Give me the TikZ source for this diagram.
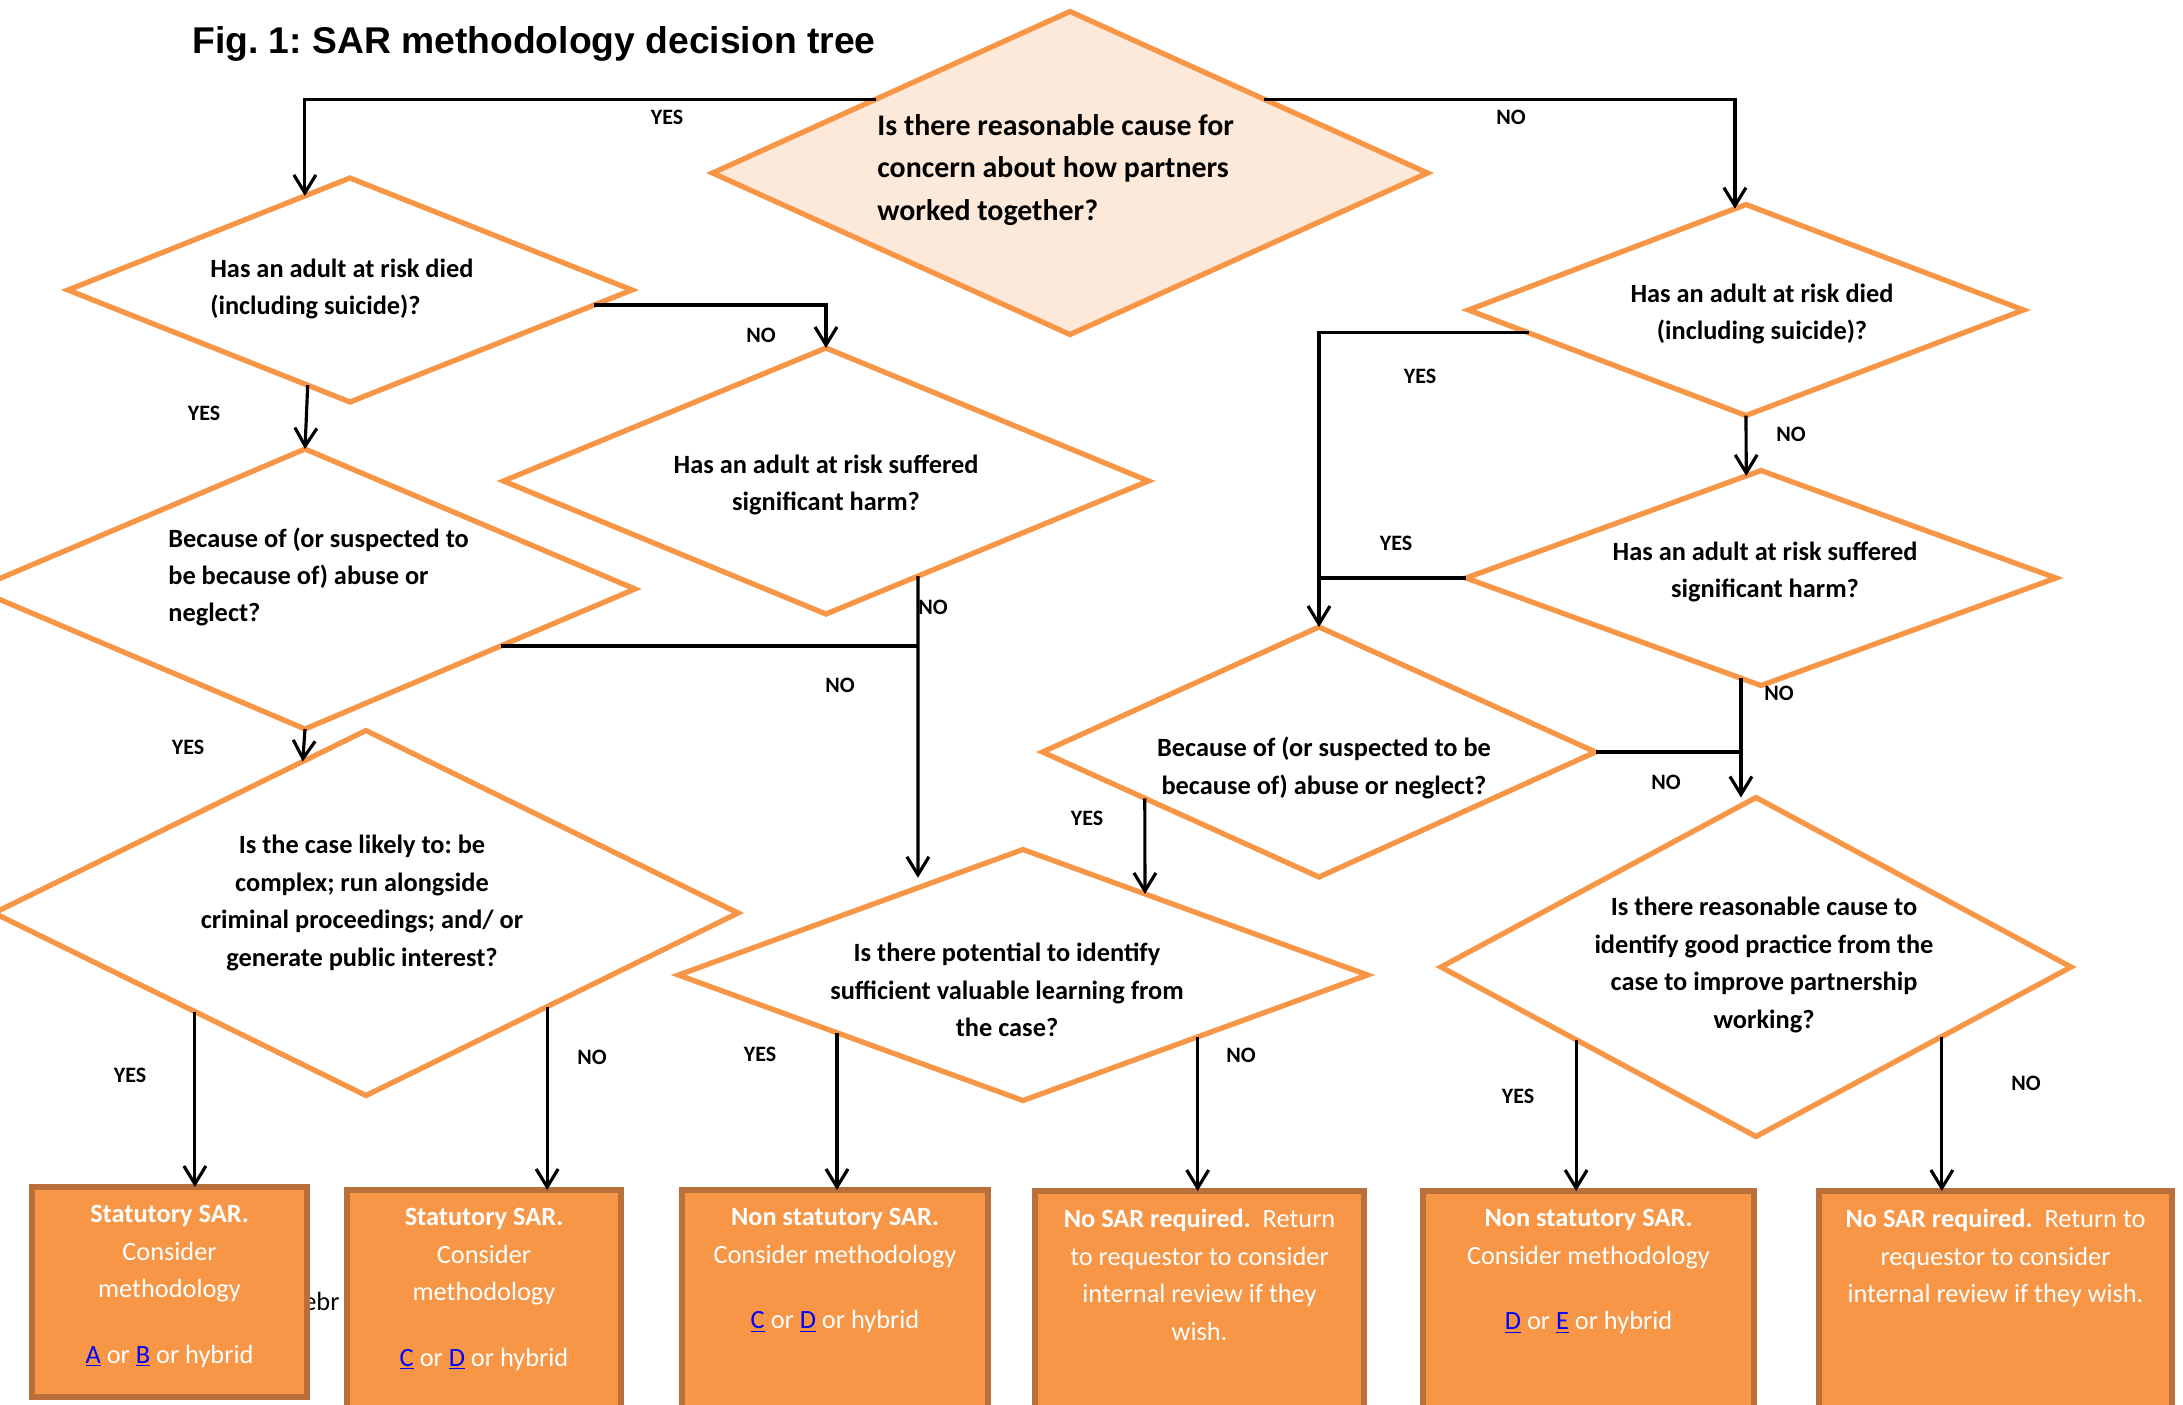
\documentclass[tikz,border=0pt]{standalone}
\usepackage{fontspec}
\setmainfont{Carlito}
\newfontfamily\titlefont{Liberation Sans}
\usepackage{xcolor}
\usetikzlibrary{arrows.meta, positioning, shapes.geometric, calc}
\definecolor{qorange}{HTML}{F79646}
\definecolor{qpeach}{HTML}{FDE9D9}
\definecolor{oborder}{HTML}{B9703A}
\definecolor{linkblue}{HTML}{0000FF}
\newcommand{\lnk}[1]{\textcolor{linkblue}{\underline{#1}}}
\frenchspacing
\tikzset{%
	quest/.style={draw=qorange, line width=3pt, diamond, fill=white, inner sep=0mm, outer sep=0mm},
	startq/.style={fill=qpeach},
	qtext/.style={font=\fontsize{15}{21.3}\selectfont\bfseries, align=center, inner sep=0mm},
	outcome/.style={draw=oborder, line width=3.2pt, rectangle, fill=qorange, anchor=north west,%
		inner sep=0mm, outer sep=0mm},
	otext/.style={font=\fontsize{15}{21.3}\selectfont, text=white, align=center, inner sep=0mm},
	connector/.style={line width=1.8pt},
	sel/.style={connector, -{Straight Barb[length=3.6mm, width=4.4mm]}},
	ans/.style={font=\fontsize{12.5}{15}\selectfont\bfseries, inner sep=0mm}
}

\begin{document}
\begin{tikzpicture}[x=0.2mm, y=-0.2mm]
	\useasboundingbox (0,0) rectangle (2183,1404);
	\node[anchor=base west, inner sep=0mm, font=\titlefont\fontsize{21.2}{25}\selectfont\bfseries] (title) at (192,53) {Fig. 1: SAR methodology decision tree};

	\node[quest, startq, minimum width=143mm, minimum height=64.6mm] (root) at (1070,173) {};
	\node[quest, minimum width=112.8mm, minimum height=44.8mm] (died-l) at (350,290) {};
	\node[quest, minimum width=132mm, minimum height=56mm] (abuse-l) at (305,589) {};
	\node[quest, minimum width=129mm, minimum height=53.2mm] (harm-l) at (826,481) {};
	\node[quest, minimum width=148.8mm, minimum height=73mm] (likely) at (366,913) {};
	\node[quest, minimum width=137.8mm, minimum height=50.2mm] (learn) at (1023,975) {};
	\node[quest, minimum width=111mm, minimum height=42.2mm] (died-r) at (1746,310) {};
	\node[quest, minimum width=118mm, minimum height=43mm] (harm-r) at (1761,578) {};
	\node[quest, minimum width=110.6mm, minimum height=50mm] (abuse-r) at (1319,752) {};
	\node[quest, minimum width=126mm, minimum height=67.8mm] (good) at (1756,967) {};

	\node[qtext, align=left, anchor=west, font=\fontsize{17}{24}\selectfont\bfseries] (root-t) at (877,170) {Is there reasonable cause for\\concern about how partners\\worked together?};
	\node[qtext, align=left, anchor=west] (died-l-t) at (210,289) {Has an adult at risk died\\(including suicide)?};
	\node[qtext, align=left, anchor=west] (abuse-l-t) at (168,577) {Because of (or suspected to\\be because of) abuse or\\neglect?};
	\node[qtext] (harm-l-t) at (826,485) {Has an adult at risk suffered\\significant harm?};
	\node[qtext] (likely-t) at (362,903) {Is the case likely to: be\\complex; run alongside\\criminal proceedings; and/ or\\generate public interest?};
	\node[qtext] (learn-t) at (1007,990) {Is there potential to identify\\sufficient valuable learning from\\the case?};
	\node[qtext] (died-r-t) at (1762,314) {Has an adult at risk died\\(including suicide)?};
	\node[qtext] (harm-r-t) at (1765,572) {Has an adult at risk suffered\\significant harm?};
	\node[qtext] (abuse-r-t) at (1324,768) {Because of (or suspected to be\\because of) abuse or neglect?};
	\node[qtext] (good-t) at (1764,965) {Is there reasonable cause to\\identify good practice from the\\case to improve partnership\\working?};

	\node[anchor=base west, inner sep=0mm, font=\fontsize{15}{18}\selectfont] (ebr) at (303,1310) {ebr};

	\node[outcome, minimum width=55mm, minimum height=42mm] (out1) at (32,1187) {};
	\node[outcome, minimum width=54.8mm, minimum height=48.6mm] (out2) at (347,1190) {};
	\node[outcome, minimum width=61.2mm, minimum height=48.6mm] (out3) at (682,1190) {};
	\node[outcome, minimum width=65.8mm, minimum height=48.6mm] (out4) at (1035,1191) {};
	\node[outcome, minimum width=66.2mm, minimum height=48.6mm] (out5) at (1423,1191) {};
	\node[outcome, minimum width=70.6mm, minimum height=48.6mm] (out6) at (1819,1191) {};
	\node[otext, below=3.6mm of out1.north] (out1-t) {\textbf{Statutory SAR.}\\Consider\\methodology\\[16pt]\lnk{A} or \lnk{B} or hybrid};
	\node[otext, below=3.6mm of out2.north] (out2-t) {\textbf{Statutory SAR.}\\Consider\\methodology\\[16pt]\lnk{C} or \lnk{D} or hybrid};
	\node[otext, below=3.6mm of out3.north] (out3-t) {\textbf{Non statutory SAR.}\\Consider methodology\\[16pt]\lnk{C} or \lnk{D} or hybrid};
	\node[otext, below=3.6mm of out4.north] (out4-t) {\textbf{No SAR required.}~ Return\\to requestor to consider\\internal review if they\\wish.};
	\node[otext, below=3.6mm of out5.north] (out5-t) {\textbf{Non statutory SAR.}\\Consider methodology\\[16pt]\lnk{D} or \lnk{E} or hybrid};
	\node[otext, below=3.6mm of out6.north] (out6-t) {\textbf{No SAR required.}~ Return to\\requestor to consider\\internal review if they wish.};

	\node[ans] (y-root) at (667,117) {YES};
	\node[ans] (n-root) at (1511,117) {NO};
	\node[ans] (y-died-l) at (204,413) {YES};
	\node[ans] (n-died-l) at (761,335) {NO};
	\node[ans] (n-harm-l) at (933,607) {NO};
	\node[ans] (n-abuse-l) at (840,685) {NO};
	\node[ans] (y-abuse-l) at (188,747) {YES};
	\node[ans] (y-likely) at (130,1075) {YES};
	\node[ans] (n-likely) at (592,1057) {NO};
	\node[ans] (y-learn) at (760,1054) {YES};
	\node[ans] (n-learn) at (1241,1055) {NO};
	\node[ans] (y-died-r) at (1420,376) {YES};
	\node[ans] (n-died-r) at (1791,434) {NO};
	\node[ans] (y-harm-r) at (1396,543) {YES};
	\node[ans] (n-harm-r) at (1779,693) {NO};
	\node[ans] (y-abuse-r) at (1087,818) {YES};
	\node[ans] (n-abuse-r) at (1666,782) {NO};
	\node[ans] (y-good) at (1518,1096) {YES};
	\node[ans] (n-good) at (2026,1083) {NO};

	\coordinate (j1) at ($(harm-l.south)!0.285!(harm-l.east)$);
	\coordinate (j2) at ($(abuse-l.east)!0.407!(abuse-l.south)$);
	\coordinate (j3) at ($(harm-r.south)!0.068!(harm-r.west)$);
	\coordinate (k1) at ($(likely.south)!0.46!(likely.west)$);
	\coordinate (k2) at ($(likely.south)!0.487!(likely.east)$);
	\coordinate (k3) at ($(learn.south)!0.54!(learn.west)$);
	\coordinate (k4) at ($(learn.south)!0.507!(learn.east)$);
	\coordinate (k5) at ($(good.south)!0.571!(good.west)$);
	\coordinate (k6) at ($(good.south)!0.59!(good.east)$);
	\draw [sel] ($(root.north)!0.543!(root.west)$) -| ($(died-l.north)!0.16!(died-l.west)$);
	\draw [sel] ($(root.north)!0.543!(root.east)$) -| ($(died-r.north)!0.04!(died-r.west)$);
	\draw [sel] ($(died-l.south)!0.15!(died-l.west)$) -- (abuse-l.north);
	\draw [sel] ($(died-l.east)!0.134!(died-l.south)$) -| (harm-l.north);
	\draw [sel, shorten >=2mm] (j1) -- ($(learn.north)!0.305!(learn.west)$);
	\draw [connector] (j2) -- (j2 -| j1);
	\draw [sel] (abuse-l.south) -- ($(likely.north)!0.17!(likely.west)$);
	\draw [sel] ($(died-r.west)!0.217!(died-r.south)$) -| (abuse-r.north);
	\draw [connector] (harm-r.west) -- (harm-r.west -| abuse-r.north);
	\draw [sel] (died-r.south) -- ($(harm-r.north)!0.05!(harm-r.west)$);
	\draw [sel] (j3) -- (j3 |- good.north);
	\draw [connector] (abuse-r.east) -- (abuse-r.east -| j3);
	\draw [sel] ($(abuse-r.south)!0.63!(abuse-r.west)$) -- ($(learn.north)!0.354!(learn.east)$);
	\draw [sel] (k1) -- (k1 |- out1.north);
	\draw [sel] (k2) -- (k2 |- out2.north);
	\draw [sel] (k3) -- (k3 |- out3.north);
	\draw [sel] (k4) -- (k4 |- out4.north);
	\draw [sel] (k5) -- (k5 |- out5.north);
	\draw [sel] (k6) -- (k6 |- out6.north);
\end{tikzpicture}
\end{document}
